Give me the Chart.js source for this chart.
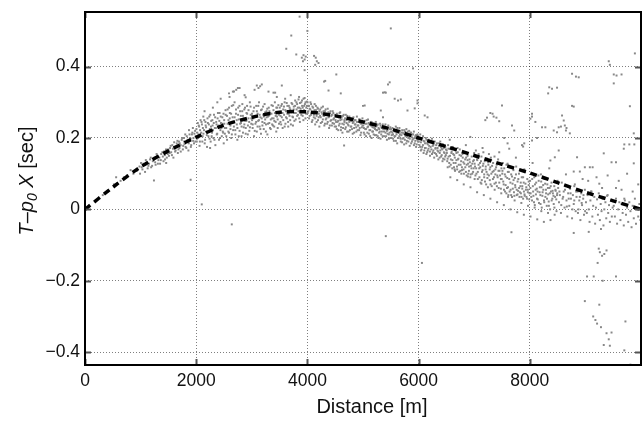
<!DOCTYPE html>
<html>
<head>
<meta charset="utf-8">
<script src="https://cdn.jsdelivr.net/npm/chart.js@4"></script>
<style>
  html, body { margin: 0; padding: 0; overflow: hidden; background: #fff; }
  canvas { display: block; }
</style>
</head>
<body>
<canvas id="delayChart" width="645" height="426"></canvas>
<script>
// axis ticks
const xTicks = [0, 2000, 4000, 6000, 8000];
const xTickLabels = ["0", "2000", "4000", "6000", "8000"];
const yTicks = [-0.4, -0.2, 0, 0.2, 0.4];
const yTickLabels = ["\u22120.4", "\u22120.2", "0", "0.2", "0.4"];

// dashed fit curve
const curveX = [0, 500, 1000, 1500, 2000, 2500, 3000, 3500, 4000, 4500, 5000,
  5500, 6000, 6500, 7000, 7500, 8000, 8500, 9000, 9500, 10000];
const curveY = [0, 0.062, 0.119, 0.164, 0.202, 0.236, 0.258, 0.272, 0.273, 0.262, 0.245,
  0.225, 0.2, 0.176, 0.151, 0.126, 0.102, 0.075, 0.048, 0.024, 0.0];

// measured travel time residuals, main band [distance, value]
const bandDots = [
  [320,0.04],[410,0.05],[520,0.07],[560,0.09],[640,0.08],[700,0.09],[760,0.095],[820,0.11],[870,0.1],[930,0.108],[980,0.12],[990,0.1],
  [1020,0.118],[1050,0.128],[1080,0.105],[1110,0.13],[1140,0.122],[1170,0.14],[1190,0.118],[1220,0.135],[1250,0.145],[1270,0.125],[1300,0.15],[1320,0.138],[1350,0.128],[1370,0.155],[1400,0.148],[1420,0.162],[1440,0.14],[1460,0.13],[1480,0.158],[1495,0.168],
  [1510,0.15],[1530,0.172],[1550,0.16],[1570,0.18],[1590,0.145],[1610,0.175],[1630,0.165],[1650,0.185],[1670,0.158],[1690,0.19],[1700,0.172],[1720,0.18],[1740,0.195],[1760,0.168],[1780,0.2],[1790,0.183],[1810,0.175],[1830,0.205],[1850,0.19],[1860,0.165],[1880,0.21],[1900,0.198],[1910,0.18],[1930,0.215],[1950,0.2],[1960,0.185],[1980,0.22],[1990,0.205],[1870,0.222],[1940,0.228],
  [2010,0.19],[2020,0.215],[2035,0.2],[2045,0.235],[2060,0.178],[2070,0.222],[2085,0.205],[2095,0.245],[2110,0.19],[2120,0.228],[2130,0.212],[2145,0.25],[2160,0.195],[2170,0.235],[2180,0.218],[2195,0.175],[2210,0.242],[2220,0.205],[2235,0.26],[2245,0.225],[2260,0.19],[2270,0.248],[2285,0.215],[2295,0.235],[2310,0.2],[2320,0.265],[2335,0.228],[2345,0.18],[2360,0.245],[2370,0.21],[2385,0.255],[2395,0.232],[2410,0.195],[2420,0.27],[2435,0.222],[2445,0.242],[2460,0.205],[2470,0.258],[2485,0.215],[2495,0.185],[2150,0.275],[2300,0.285],[2380,0.3],[2440,0.31],[2250,0.172],
  [2505,0.24],[2515,0.212],[2530,0.265],[2540,0.228],[2555,0.195],[2565,0.28],[2580,0.25],[2590,0.215],[2605,0.27],[2615,0.235],[2630,0.2],[2640,0.29],[2655,0.258],[2665,0.222],[2680,0.245],[2690,0.3],[2705,0.21],[2715,0.268],[2730,0.238],[2740,0.195],[2755,0.285],[2765,0.252],[2780,0.22],[2790,0.275],[2805,0.242],[2815,0.205],[2830,0.295],[2840,0.262],[2855,0.23],[2865,0.28],[2880,0.248],[2890,0.212],[2905,0.27],[2915,0.29],[2930,0.235],[2940,0.255],[2955,0.22],[2965,0.3],[2980,0.265],[2990,0.24],[2660,0.33],[2720,0.335],[2780,0.34],[2600,0.315],[2870,0.32],
  [3005,0.25],[3015,0.228],[3030,0.275],[3040,0.205],[3055,0.262],[3065,0.24],[3080,0.29],[3090,0.218],[3105,0.268],[3115,0.248],[3130,0.3],[3140,0.232],[3155,0.258],[3165,0.212],[3180,0.28],[3190,0.245],[3205,0.265],[3215,0.225],[3230,0.295],[3240,0.252],[3255,0.238],[3265,0.275],[3280,0.21],[3290,0.26],[3305,0.285],[3315,0.242],[3330,0.27],[3340,0.225],[3355,0.292],[3365,0.255],[3380,0.235],[3390,0.278],[3405,0.248],[3415,0.3],[3430,0.262],[3440,0.218],[3455,0.285],[3465,0.252],[3480,0.272],[3490,0.24],[3090,0.347],[3120,0.34],[3050,0.335],[3300,0.33],[3450,0.315],
  [3505,0.27],[3515,0.245],[3530,0.29],[3540,0.258],[3555,0.228],[3565,0.28],[3580,0.265],[3590,0.3],[3605,0.24],[3615,0.275],[3630,0.255],[3640,0.29],[3655,0.232],[3665,0.268],[3680,0.285],[3690,0.25],[3705,0.275],[3715,0.298],[3730,0.26],[3740,0.235],[3755,0.288],[3765,0.27],[3780,0.305],[3790,0.252],[3805,0.28],[3815,0.295],[3830,0.265],[3840,0.308],[3855,0.285],[3865,0.245],[3880,0.272],[3890,0.3],[3905,0.29],[3915,0.262],[3930,0.31],[3940,0.278],[3955,0.295],[3965,0.255],[3980,0.285],[3990,0.302],[3700,0.32],[3600,0.31],[3850,0.315],[3950,0.312],
  [4005,0.27],[4015,0.29],[4030,0.255],[4040,0.282],[4055,0.3],[4065,0.265],[4080,0.245],[4090,0.288],[4105,0.272],[4115,0.258],[4130,0.295],[4140,0.238],[4155,0.278],[4165,0.262],[4180,0.285],[4190,0.25],[4205,0.268],[4215,0.232],[4230,0.28],[4240,0.258],[4255,0.272],[4265,0.245],[4280,0.288],[4290,0.262],[4305,0.235],[4315,0.275],[4330,0.252],[4340,0.268],[4355,0.24],[4365,0.282],[4380,0.258],[4390,0.228],[4405,0.27],[4415,0.248],[4430,0.262],[4440,0.235],[4455,0.275],[4465,0.252],[4480,0.24],[4490,0.265],
  [4505,0.25],[4515,0.232],[4530,0.268],[4540,0.245],[4555,0.222],[4565,0.258],[4580,0.24],[4590,0.272],[4605,0.23],[4615,0.252],[4630,0.215],[4640,0.262],[4655,0.238],[4665,0.25],[4680,0.225],[4690,0.265],[4705,0.242],[4715,0.218],[4730,0.255],[4740,0.235],[4755,0.26],[4765,0.222],[4780,0.248],[4790,0.232],[4805,0.255],[4815,0.212],[4830,0.245],[4840,0.228],[4855,0.25],[4865,0.238],[4880,0.218],[4890,0.26],[4905,0.235],[4915,0.245],[4930,0.222],[4940,0.252],[4955,0.208],[4965,0.24],[4980,0.23],[4990,0.255],
  [5005,0.235],[5015,0.215],[5030,0.248],[5040,0.225],[5055,0.205],[5065,0.24],[5080,0.23],[5090,0.252],[5105,0.212],[5115,0.238],[5130,0.222],[5140,0.245],[5155,0.2],[5165,0.232],[5180,0.218],[5190,0.24],[5205,0.228],[5215,0.208],[5230,0.245],[5240,0.222],[5255,0.235],[5265,0.205],[5280,0.228],[5290,0.215],[5305,0.24],[5315,0.198],[5330,0.23],[5340,0.218],[5355,0.238],[5365,0.225],[5380,0.205],[5390,0.232],[5405,0.215],[5415,0.228],[5430,0.195],[5440,0.222],[5455,0.235],[5465,0.21],[5480,0.225],[5490,0.2],
  [5505,0.218],[5515,0.2],[5530,0.228],[5540,0.21],[5555,0.192],[5565,0.222],[5580,0.205],[5590,0.232],[5605,0.215],[5615,0.185],[5630,0.22],[5640,0.2],[5655,0.228],[5665,0.21],[5680,0.19],[5690,0.215],[5705,0.222],[5715,0.198],[5730,0.212],[5740,0.182],[5755,0.218],[5765,0.205],[5780,0.225],[5790,0.192],[5805,0.21],[5815,0.2],[5830,0.22],[5840,0.178],[5855,0.205],[5865,0.215],[5880,0.19],[5890,0.21],[5905,0.198],[5915,0.218],[5930,0.185],[5940,0.205],[5955,0.175],[5965,0.2],[5980,0.21],[5990,0.19],
  [6005,0.2],[6015,0.18],[6030,0.21],[6040,0.165],[6055,0.195],[6065,0.175],[6080,0.205],[6090,0.158],[6105,0.19],[6115,0.172],[6130,0.2],[6140,0.155],[6155,0.185],[6165,0.165],[6180,0.195],[6190,0.178],[6205,0.15],[6215,0.188],[6230,0.168],[6240,0.198],[6255,0.16],[6265,0.18],[6280,0.145],[6290,0.19],[6305,0.172],[6315,0.155],[6330,0.185],[6340,0.165],[6355,0.14],[6365,0.178],[6380,0.158],[6390,0.19],[6405,0.148],[6415,0.17],[6430,0.135],[6440,0.182],[6455,0.16],[6465,0.14],[6480,0.175],[6490,0.152],
  [6505,0.165],[6515,0.135],[6530,0.18],[6540,0.148],[6555,0.12],[6565,0.17],[6580,0.14],[6590,0.158],[6605,0.115],[6615,0.175],[6630,0.13],[6640,0.152],[6655,0.108],[6665,0.165],[6680,0.138],[6690,0.12],[6705,0.16],[6715,0.142],[6730,0.105],[6740,0.168],[6755,0.125],[6765,0.15],[6780,0.11],[6790,0.155],[6805,0.132],[6815,0.1],[6830,0.16],[6840,0.118],[6855,0.145],[6865,0.095],[6880,0.15],[6890,0.128],[6905,0.108],[6915,0.14],[6930,0.09],[6940,0.122],[6955,0.148],[6965,0.1],[6980,0.135],[6990,0.115],
  [7005,0.15],[7015,0.12],[7030,0.165],[7040,0.1],[7055,0.138],[7065,0.085],[7080,0.155],[7090,0.115],[7105,0.13],[7115,0.075],[7130,0.148],[7140,0.105],[7155,0.122],[7165,0.16],[7180,0.09],[7190,0.135],[7205,0.112],[7215,0.07],[7230,0.142],[7240,0.098],[7255,0.125],[7265,0.155],[7280,0.082],[7290,0.118],[7305,0.138],[7315,0.065],[7330,0.105],[7340,0.13],[7355,0.09],[7365,0.148],[7380,0.112],[7390,0.075],[7405,0.125],[7415,0.095],[7430,0.14],[7440,0.06],[7455,0.108],[7465,0.128],[7480,0.085],[7490,0.115],
  [7505,0.1],[7515,0.13],[7530,0.07],[7540,0.115],[7555,0.05],[7565,0.092],[7580,0.125],[7590,0.06],[7605,0.105],[7615,0.04],[7630,0.085],[7640,0.118],[7655,0.055],[7665,0.098],[7680,0.035],[7690,0.072],[7705,0.11],[7715,0.048],[7730,0.088],[7740,0.062],[7755,0.12],[7765,0.04],[7780,0.078],[7790,0.052],[7805,0.1],[7815,0.035],[7830,0.065],[7840,0.045],[7855,0.09],[7865,0.058],[7880,0.03],[7890,0.075],[7905,0.042],[7915,0.105],[7930,0.055],[7940,0.035],[7955,0.085],[7965,0.048],[7980,0.068],[7990,0.028],
  [8005,0.08],[8015,0.045],[8030,0.1],[8040,0.025],[8055,0.065],[8065,0.038],[8080,0.09],[8090,0.012],[8105,0.055],[8115,0.075],[8130,0.03],[8140,0.05],[8155,0.095],[8165,0.018],[8180,0.062],[8190,0.04],[8205,0.078],[8215,0.005],[8230,0.048],[8240,0.068],[8255,0.025],[8265,0.085],[8280,0.035],[8290,0.055],[8305,0.01],[8315,0.07],[8330,0.042],[8340,0.022],[8355,0.06],[8365,0.0],[8380,0.05],[8390,0.075],[8405,0.03],[8415,0.045],[8430,0.015],[8440,0.065],[8455,0.035],[8465,0.052],[8480,-0.005],[8490,0.04],
  [8510,0.06],[8525,0.02],[8540,0.04],[8560,-0.01],[8575,0.075],[8590,0.03],[8610,0.05],[8625,0.005],[8640,0.065],[8660,0.025],[8675,-0.02],[8690,0.045],[8710,0.01],[8725,0.058],[8740,0.03],[8760,-0.025],[8775,0.04],[8790,0.015],[8810,0.07],[8825,-0.005],[8840,0.035],[8860,0.05],[8875,0.0],[8890,0.025],[8910,-0.03],[8925,0.045],[8940,0.012],[8960,0.03],[8975,-0.015],[8990,0.055],
  [9010,0.02],[9025,-0.01],[9040,0.04],[9060,0.0],[9075,-0.035],[9090,0.025],[9110,0.05],[9125,-0.02],[9140,0.01],[9160,0.035],[9175,-0.04],[9190,0.005],[9210,0.028],[9225,-0.015],[9240,0.045],[9260,-0.03],[9275,0.015],[9290,-0.005],[9310,0.03],[9325,-0.045],[9340,0.0],[9360,0.02],[9375,-0.025],[9390,0.038],[9410,-0.01],[9425,0.012],[9440,-0.035],[9460,0.025],[9475,-0.02],[9490,0.005],
  [9510,0.01],[9530,-0.02],[9550,0.03],[9570,-0.04],[9590,0.0],[9610,0.02],[9630,-0.03],[9650,0.015],[9670,-0.01],[9690,-0.045],[9710,0.025],[9730,-0.015],[9750,0.005],[9770,-0.035],[9790,0.02],[9810,-0.005],[9830,-0.05],[9850,0.01],[9870,-0.025],[9890,0.03],[9910,-0.04],[9930,0.0],[9950,-0.02],[9970,0.015],[9990,-0.03]
];

// second pass over the band, filling the dense core
const bandDots2 = [
  [1008,0.13],[1033,0.112],[1061,0.125],[1094,0.138],[1127,0.115],[1152,0.128],[1183,0.145],[1207,0.122],[1236,0.14],[1262,0.132],[1288,0.155],[1311,0.128],[1338,0.145],[1363,0.138],[1391,0.16],[1412,0.135],[1436,0.152],[1457,0.168],[1471,0.145],[1489,0.155],
  [1503,0.165],[1522,0.158],[1541,0.178],[1563,0.152],[1582,0.17],[1604,0.188],[1621,0.162],[1643,0.175],[1662,0.192],[1681,0.168],[1703,0.185],[1722,0.162],[1747,0.2],[1766,0.178],[1784,0.19],[1803,0.21],[1822,0.172],[1844,0.195],[1866,0.185],[1887,0.2],[1904,0.175],[1923,0.21],[1945,0.192],[1968,0.212],[1985,0.19],
  [2004,0.225],[2016,0.198],[2028,0.242],[2041,0.21],[2053,0.232],[2066,0.19],[2078,0.25],[2091,0.215],[2103,0.238],[2116,0.205],[2128,0.26],[2141,0.222],[2153,0.185],[2166,0.245],[2178,0.23],[2191,0.208],[2203,0.255],[2216,0.218],[2228,0.238],[2241,0.198],[2253,0.265],[2266,0.232],[2278,0.205],[2291,0.25],[2303,0.222],[2316,0.242],[2328,0.195],[2341,0.258],[2353,0.228],[2366,0.238],[2378,0.212],[2391,0.27],[2403,0.235],[2416,0.248],[2428,0.2],[2441,0.26],[2453,0.228],[2466,0.24],[2478,0.218],[2491,0.268],
  [2503,0.25],[2516,0.228],[2528,0.278],[2541,0.205],[2553,0.262],[2566,0.24],[2578,0.218],[2591,0.285],[2603,0.255],[2616,0.225],[2628,0.268],[2641,0.21],[2653,0.245],[2666,0.292],[2678,0.232],[2691,0.258],[2703,0.222],[2716,0.28],[2728,0.25],[2741,0.228],[2753,0.265],[2766,0.205],[2778,0.29],[2791,0.24],[2803,0.262],[2816,0.232],[2828,0.275],[2841,0.215],[2853,0.255],[2866,0.238],[2878,0.285],[2891,0.228],[2903,0.248],[2916,0.268],[2928,0.21],[2941,0.278],[2953,0.245],[2966,0.23],[2978,0.288],[2991,0.255],
  [3003,0.268],[3016,0.238],[3028,0.255],[3041,0.285],[3053,0.22],[3066,0.262],[3078,0.245],[3091,0.275],[3103,0.232],[3116,0.29],[3128,0.25],[3141,0.265],[3153,0.225],[3166,0.278],[3178,0.255],[3191,0.235],[3203,0.288],[3216,0.26],[3228,0.242],[3241,0.272],[3253,0.218],[3266,0.258],[3278,0.282],[3291,0.24],[3303,0.262],[3316,0.275],[3328,0.228],[3341,0.252],[3353,0.268],[3366,0.238],[3378,0.29],[3391,0.255],[3403,0.232],[3416,0.27],[3428,0.245],[3441,0.285],[3453,0.26],[3466,0.228],[3478,0.292],[3491,0.265],
  [3503,0.285],[3516,0.262],[3528,0.238],[3541,0.295],[3553,0.27],[3566,0.25],[3578,0.288],[3591,0.232],[3603,0.278],[3616,0.258],[3628,0.298],[3641,0.268],[3653,0.245],[3666,0.29],[3678,0.262],[3691,0.28],[3703,0.238],[3716,0.272],[3728,0.295],[3741,0.258],[3753,0.28],[3766,0.248],[3778,0.29],[3791,0.27],[3803,0.3],[3816,0.262],[3828,0.285],[3841,0.275],[3853,0.255],[3866,0.298],[3878,0.282],[3891,0.265],[3903,0.305],[3916,0.285],[3928,0.25],[3941,0.29],[3953,0.272],[3966,0.3],[3978,0.268],[3991,0.29],
  [4003,0.3],[4016,0.275],[4028,0.29],[4041,0.262],[4053,0.28],[4066,0.295],[4078,0.27],[4091,0.25],[4103,0.285],[4116,0.265],[4128,0.278],[4141,0.255],[4153,0.29],[4166,0.245],[4178,0.272],[4191,0.282],[4203,0.258],[4216,0.275],[4228,0.262],[4241,0.242],[4253,0.285],[4266,0.268],[4278,0.252],[4291,0.275],[4303,0.262],[4316,0.24],[4328,0.28],[4341,0.255],[4353,0.265],[4366,0.245],[4378,0.272],[4391,0.26],[4403,0.235],[4416,0.275],[4428,0.25],[4441,0.265],[4453,0.242],[4466,0.27],[4478,0.255],[4491,0.232],
  [4503,0.262],[4516,0.245],[4528,0.225],[4541,0.26],[4553,0.248],[4566,0.235],[4578,0.27],[4591,0.25],[4603,0.222],[4616,0.258],[4628,0.24],[4641,0.228],[4653,0.265],[4666,0.245],[4678,0.255],[4691,0.23],[4703,0.25],[4716,0.262],[4728,0.238],[4741,0.218],[4753,0.245],[4766,0.255],[4778,0.232],[4791,0.248],[4803,0.225],[4816,0.242],[4828,0.258],[4841,0.215],[4853,0.238],[4866,0.25],[4878,0.23],[4891,0.245],[4903,0.222],[4916,0.235],[4928,0.252],[4941,0.228],[4953,0.242],[4966,0.215],[4978,0.248],[4991,0.235],
  [5003,0.245],[5016,0.228],[5028,0.21],[5041,0.24],[5053,0.225],[5066,0.25],[5078,0.215],[5091,0.232],[5103,0.242],[5116,0.222],[5128,0.205],[5141,0.235],[5153,0.245],[5166,0.218],[5178,0.23],[5191,0.21],[5203,0.24],[5216,0.225],[5228,0.232],[5241,0.208],[5253,0.222],[5266,0.238],[5278,0.2],[5291,0.225],[5303,0.218],[5316,0.235],[5328,0.21],[5341,0.228],[5353,0.205],[5366,0.232],[5378,0.218],[5391,0.225],[5403,0.238],[5416,0.205],[5428,0.22],[5441,0.212],[5453,0.228],[5466,0.198],[5478,0.215],[5491,0.23],
  [5503,0.225],[5516,0.208],[5528,0.215],[5541,0.198],[5553,0.222],[5566,0.205],[5578,0.218],[5591,0.192],[5603,0.21],[5616,0.228],[5628,0.2],[5641,0.215],[5653,0.205],[5666,0.22],[5678,0.198],[5691,0.208],[5703,0.188],[5716,0.215],[5728,0.2],[5741,0.222],[5753,0.195],[5766,0.21],[5778,0.185],[5791,0.205],[5803,0.218],[5816,0.19],[5828,0.208],[5841,0.198],[5853,0.215],[5866,0.185],[5878,0.202],[5891,0.195],[5903,0.21],[5916,0.18],[5928,0.2],[5941,0.192],[5953,0.208],[5966,0.182],[5978,0.195],[5991,0.205],
  [6003,0.19],[6016,0.198],[6028,0.175],[6041,0.188],[6053,0.168],[6066,0.2],[6078,0.18],[6091,0.192],[6103,0.165],[6116,0.185],[6128,0.172],[6141,0.195],[6153,0.16],[6166,0.182],[6178,0.17],[6191,0.188],[6203,0.162],[6216,0.175],[6228,0.19],[6241,0.155],[6253,0.178],[6266,0.165],[6278,0.185],[6291,0.158],[6303,0.17],[6316,0.18],[6328,0.15],[6341,0.172],[6353,0.162],[6366,0.185],[6378,0.145],[6391,0.165],[6403,0.175],[6416,0.152],[6428,0.168],[6441,0.142],[6453,0.172],[6466,0.158],[6478,0.148],[6491,0.168],
  [6508,0.158],[6522,0.142],[6536,0.17],[6551,0.13],[6565,0.15],[6579,0.125],[6594,0.162],[6608,0.138],[6622,0.155],[6637,0.118],[6651,0.145],[6665,0.13],[6680,0.158],[6694,0.112],[6708,0.14],[6722,0.125],[6737,0.152],[6751,0.108],[6765,0.135],[6779,0.118],[6794,0.145],[6808,0.112],[6822,0.128],[6837,0.14],[6851,0.105],[6865,0.125],[6880,0.138],[6894,0.1],[6908,0.12],[6922,0.132],[6937,0.098],[6951,0.115],[6965,0.128],[6980,0.105],[6994,0.138],
  [7008,0.128],[7022,0.095],[7036,0.115],[7051,0.14],[7065,0.105],[7079,0.125],[7094,0.09],[7108,0.118],[7122,0.135],[7137,0.082],[7151,0.11],[7165,0.128],[7180,0.098],[7194,0.078],[7208,0.12],[7222,0.105],[7237,0.088],[7251,0.132],[7265,0.095],[7279,0.112],[7294,0.07],[7308,0.1],[7322,0.122],[7337,0.085],[7351,0.108],[7365,0.072],[7380,0.098],[7394,0.118],[7408,0.065],[7422,0.09],[7437,0.108],[7451,0.075],[7465,0.095],[7480,0.058],[7494,0.085],
  [7508,0.108],[7522,0.078],[7536,0.055],[7551,0.098],[7565,0.068],[7579,0.045],[7594,0.088],[7608,0.062],[7622,0.105],[7637,0.05],[7651,0.075],[7665,0.04],[7680,0.092],[7694,0.058],[7708,0.082],[7722,0.038],[7737,0.068],[7751,0.098],[7765,0.055],[7779,0.042],[7794,0.085],[7808,0.06],[7822,0.048],[7837,0.075],[7851,0.035],[7865,0.065],[7880,0.09],[7894,0.05],[7908,0.038],[7922,0.072],[7937,0.062],[7951,0.03],[7965,0.055],[7980,0.078],[7994,0.045],
  [8010,0.06],[8026,0.035],[8043,0.085],[8060,0.05],[8076,0.02],[8093,0.07],[8110,0.042],[8126,0.058],[8143,0.028],[8160,0.08],[8176,0.048],[8193,0.015],[8210,0.062],[8226,0.038],[8243,0.055],[8260,0.02],[8276,0.072],[8293,0.045],[8310,0.03],[8326,0.06],[8343,0.01],[8360,0.045],[8376,0.065],[8393,0.025],[8410,0.052],[8426,0.038],[8443,0.005],[8460,0.055],[8476,0.028],[8493,0.045],
  [8533,0.05],[8566,0.012],[8600,0.035],[8633,0.055],[8666,0.008],[8700,0.03],[8733,0.045],[8766,0.0],[8800,0.025],[8833,0.05],[8866,-0.01],[8900,0.035],[8933,0.018],[8966,0.04],[8995,-0.005]
];

// loose points along the lower and upper edges of the band, 6500 m onward
const edgeDots = [
  [6523,0.118],[6571,0.09],[6648,0.112],[6694,0.082],[6769,0.1],[6812,0.07],[6887,0.092],[6933,0.062],[7008,0.085],[7052,0.048],[7129,0.072],[7173,0.04],[7246,0.062],[7291,0.03],[7368,0.055],[7412,0.02],[7487,0.045],[7533,0.012],[7609,0.035],[7652,0.0],[7727,0.025],[7774,-0.008],[7848,0.018],[7893,-0.015],[7968,0.01],[8013,-0.02],[8087,0.005],[8134,-0.028],[8207,-0.005],[8253,-0.035],[8328,-0.01],[8372,-0.03],[8447,-0.015],
  [6560,0.195],[6700,0.172],[6850,0.18],[7000,0.158],[7150,0.172],[7300,0.145],[7450,0.16],[7600,0.128],[7750,0.145],[7900,0.112],[8050,0.13],[8200,0.098],[8350,0.115],[8500,0.08],[8650,0.098],[8800,0.065],[8950,0.085],[9100,0.05],[9250,0.072],[9400,0.04],[9550,0.06],[9700,0.03],[9850,0.05]
];

// scattered points above the band
const upperStrays = [
  [3860,0.54],[3710,0.487],[3620,0.45],[3800,0.434],[3900,0.425],[3930,0.432],[3950,0.42],[3970,0.428],[3920,0.415],[4000,0.5],[4120,0.43],[4150,0.425],[4170,0.415],[4200,0.41],[4140,0.405],[3950,0.39],[4520,0.378],[5500,0.507],[5900,0.395],
  [4320,0.36],[4300,0.358],[4380,0.333],[4600,0.325],[5480,0.356],[5450,0.35],[5390,0.328],[5360,0.327],[5410,0.327],[5570,0.31],[5630,0.305],[5680,0.308],[5320,0.277],[5360,0.258],[5030,0.291],[5000,0.29],[5800,0.277],[5930,0.283],[5980,0.297],[5980,0.305],[6110,0.263],[6160,0.258],
  [3390,0.327],[3420,0.327],[3540,0.347],[3150,0.345],[3180,0.35],[2750,0.34],[2590,0.325],[2680,0.33],[2890,0.314],
  [6930,0.203],[7230,0.257],[7330,0.268],[7400,0.257],[7450,0.247],[7500,0.291],[7290,0.27],[7200,0.25],[7350,0.26],[7680,0.235],[7720,0.221],[7540,0.2],[7600,0.185],[7630,0.17],[7880,0.176],[7900,0.185],[7860,0.18],
  [8010,0.254],[8040,0.268],[8100,0.245],[8040,0.26],[8350,0.342],[8400,0.338],[8490,0.341],[8330,0.325],[8760,0.38],[8830,0.372],[8880,0.37],[8760,0.29],[8790,0.288],[8580,0.263],[8610,0.249],[8650,0.221],[8660,0.228],[8430,0.221],[8490,0.216],[8280,0.23],[8220,0.23],[8520,0.23],[8560,0.232],[8630,0.235],[8720,0.213],[8040,0.193],[8130,0.2],
  [9420,0.415],[9440,0.405],[9510,0.378],[9560,0.375],[9650,0.378],[9510,0.353],[9890,0.437],[9800,0.289],[9700,0.182],[9790,0.182],[9880,0.182],[9870,0.213],[9690,0.17],[9330,0.157],[9470,0.132],[9550,0.132],[9870,0.129],[9080,0.118],[9130,0.118],[8850,0.146],[8790,0.106],[8900,0.106],[8990,0.118],[8450,0.146],[8520,0.165],[8370,0.137],[9200,0.09],[9400,0.095],[9600,0.08],[9750,0.1],[9950,0.07],[9050,0.08],[9300,0.06],[9650,0.055]
];

// scattered points below the band
const lowerStrays = [
  [1240,0.081],[1900,0.083],[2100,0.014],[2640,-0.042],[4660,0.179],[5410,-0.075],[6060,-0.15],[7670,-0.064],[8790,-0.066],[9060,-0.063],[9280,-0.055],
  [9240,-0.11],[9260,-0.12],[9340,-0.125],[9300,-0.13],[9380,-0.115],[9220,-0.15],[9030,-0.188],[9150,-0.188],[9310,-0.2],[9550,-0.188],[8990,-0.257],[9250,-0.267],[9140,-0.3],[9180,-0.31],[9210,-0.32],[9280,-0.33],[9720,-0.314],[9380,-0.347],[9470,-0.345],[9420,-0.364],[9330,-0.38],[9440,-0.382],[9700,-0.395],[9810,-0.435]
];

const FONT = "'Liberation Sans', Arial, Helvetica, sans-serif";

function toPoints(list) {
  return list.map((p) => ({ x: p[0], y: p[1] }));
}

// matlab style frame: box, inward ticks, axis titles
const framePlugin = {
  id: "frame",
  afterDraw(chart) {
    const ctx = chart.ctx;
    const a = chart.chartArea;
    const xs = chart.scales.x;
    const ys = chart.scales.y;
    ctx.save();
    ctx.strokeStyle = "#555";
    ctx.lineWidth = 2;
    ctx.beginPath();
    xTicks.forEach((v) => {
      const px = Math.round(xs.getPixelForValue(v)) + 0.5;
      ctx.moveTo(px, a.bottom);
      ctx.lineTo(px, a.bottom - 6);
      ctx.moveTo(px, a.top);
      ctx.lineTo(px, a.top + 6);
    });
    yTicks.forEach((v) => {
      const py = Math.round(ys.getPixelForValue(v)) + 0.5;
      ctx.moveTo(a.left, py);
      ctx.lineTo(a.left + 6, py);
      ctx.moveTo(a.right, py);
      ctx.lineTo(a.right - 6, py);
    });
    ctx.stroke();

    ctx.strokeStyle = "#000";
    ctx.lineWidth = 2;
    ctx.strokeRect(a.left, a.top, a.right - a.left, a.bottom - a.top);

    // x title
    ctx.fillStyle = "#111";
    ctx.font = "20px " + FONT;
    ctx.textAlign = "center";
    ctx.textBaseline = "alphabetic";
    ctx.fillText("Distance [m]", 372, 413);

    // y title: T-p0 X [sec], rotated
    const parts = [
      { t: "T", f: "italic 20px " + FONT, dy: 0 },
      { t: "\u2013", f: "20px " + FONT, dy: 0 },
      { t: "p", f: "italic 20px " + FONT, dy: 0 },
      { t: "0", f: "italic 14px " + FONT, dy: 4 },
      { t: " X", f: "italic 20px " + FONT, dy: 0 },
      { t: " [sec]", f: "20px " + FONT, dy: 0 },
    ];
    let total = 0;
    parts.forEach((p) => {
      ctx.font = p.f;
      p.w = ctx.measureText(p.t).width;
      total += p.w;
    });
    ctx.translate(33, 181);
    ctx.rotate(-Math.PI / 2);
    ctx.textAlign = "left";
    let u = -total / 2;
    parts.forEach((p) => {
      ctx.font = p.f;
      ctx.fillText(p.t, u, p.dy);
      u += p.w;
    });
    ctx.restore();
  },
};

const ctx = document.getElementById("delayChart").getContext("2d");
new Chart(ctx, {
  type: "scatter",
  data: {
    datasets: [
      {
        label: "fit",
        data: curveX.map((x, i) => ({ x: x, y: curveY[i] })),
        showLine: true,
        borderColor: "#000",
        borderWidth: 3.5,
        borderDash: [7, 5],
        pointRadius: 0,
        tension: 0.3,
      },
      {
        label: "band",
        data: toPoints(bandDots.concat(bandDots2, edgeDots, upperStrays, lowerStrays)),
        pointStyle: "rect",
        pointRadius: 1.4,
        pointBorderWidth: 0,
        backgroundColor: "#888",
        borderColor: "#888",
      },
    ],
  },
  options: {
    responsive: false,
    animation: false,
    layout: { padding: { left: 0, right: 1, top: 12, bottom: 0 } },
    plugins: {
      legend: { display: false },
      tooltip: { enabled: false },
    },
    scales: {
      x: {
        type: "linear",
        min: 0,
        max: 10000,
        afterBuildTicks: (s) => {
          s.ticks = xTicks.map((v) => ({ value: v }));
        },
        afterFit: (s) => {
          s.height = 61;
          s.paddingLeft = 0;
          s.paddingRight = 0;
        },
        grid: { color: "rgba(0,0,0,0.5)", lineWidth: 1, drawTicks: false },
        border: { display: false, dash: [1, 2] },
        ticks: {
          padding: 6,
          color: "#111",
          font: { family: FONT, size: 17.5 },
          maxRotation: 0,
          callback: (v) => xTickLabels[xTicks.indexOf(v)],
        },
      },
      y: {
        type: "linear",
        min: -0.436,
        max: 0.553,
        afterBuildTicks: (s) => {
          s.ticks = yTicks.map((v) => ({ value: v }));
        },
        afterFit: (s) => {
          s.width = 85;
          s.paddingTop = 0;
          s.paddingBottom = 0;
        },
        grid: { color: "rgba(0,0,0,0.5)", lineWidth: 1, drawTicks: false },
        border: { display: false, dash: [1, 2] },
        ticks: {
          padding: 5,
          color: "#111",
          font: { family: FONT, size: 17.5 },
          callback: (v) => yTickLabels[yTicks.indexOf(v)],
        },
      },
    },
  },
  plugins: [framePlugin],
});
</script>
</body>
</html>
